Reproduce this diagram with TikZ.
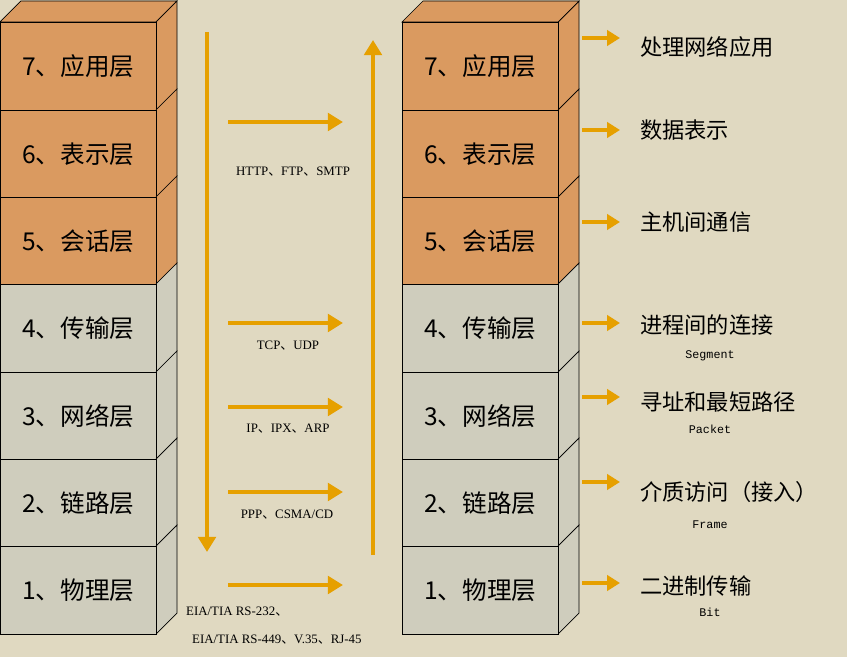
\documentclass[tikz,border=0pt]{standalone}
\usepackage{fontspec}
\setmainfont{Liberation Serif}
\newfontfamily\cjk{Noto Sans CJK SC}
\newfontfamily\mono{Liberation Mono}
\newcommand\dun{{\cjk 、}}
\usetikzlibrary{arrows.meta}
\definecolor{bg}{HTML}{E0D9C1}
\definecolor{org}{HTML}{DA9A60}
\definecolor{gry}{HTML}{CFCDBD}
\definecolor{arr}{HTML}{E6A000}
\tikzset{
  lay/.style={font=\cjk\fontsize{21}{23}\selectfont},
  flow/.style={draw=arr, line width=3.5pt, -{Triangle[length=13pt,width=15pt]}},
  prot/.style={font=\fontsize{11}{13}\selectfont, anchor=center},
  desc/.style={font=\cjk\fontsize{19}{21}\selectfont, anchor=west},
  sub/.style={font=\mono\fontsize{10}{12}\selectfont, anchor=center}
}
\begin{document}
\begin{tikzpicture}[x=0.03cm,y=-0.03cm]
\fill[bg] (0,0) rectangle (847,657);
\useasboundingbox (0,0) rectangle (847,657);
\foreach \x/\s in {0/L,402/R}{
  \foreach \i/\t/\b/\c in {7/22/110/org,6/110/197/org,5/197/284/org,4/284/372/gry,3/372/459/gry,2/459/546/gry,1/546/634/gry}{
    \fill[\c,draw=black,line width=0.6pt] (\x+156,\t) -- (\x+177,\t-21) -- (\x+177,\b-21) -- (\x+156,\b) -- cycle;
    \node[draw=black,fill=\c,line width=0.6pt,minimum width=156*0.03cm,minimum height=(\b-\t)*0.03cm,inner sep=0pt,lay,anchor=north west] (\s\i) at (\x,\t) {\i、\ifcase\i\or 物理层\or 链路层\or 网络层\or 传输层\or 会话层\or 表示层\or 应用层\fi};
  }
  \fill[org,draw=black,line width=0.6pt] (\x,22) -- (\x+21,1) -- (\x+177,1) -- (\x+156,22) -- cycle;
}
% vertical arrows
\coordinate (dA) at (207,32); \coordinate (dB) at (207,552);
\coordinate (uA) at (373,555); \coordinate (uB) at (373,40);
\draw[flow] (dA) -- (dB);
\draw[flow] (uA) -- (uB);
% horizontal arrows
\foreach \y/\n in {122/a,323/b,407/c,492/d,585/e}{
  \coordinate (h\n1) at (228,\y); \coordinate (h\n2) at (343,\y);
  \draw[flow] (h\n1) -- (h\n2);
}
\node[prot] (p7) at (293,172) {HTTP\dun FTP\dun SMTP};
\node[prot] (p4) at (288,346) {TCP\dun UDP};
\node[prot] (p3) at (288,429) {IP\dun IPX\dun ARP};
\node[prot] (p2) at (287,515) {PPP\dun CSMA/CD};
\node[prot,anchor=west] (p1a) at (182,612) {EIA/TIA RS-232\dun};
\node[prot,anchor=west] (p1b) at (188,640) {EIA/TIA RS-449\dun V.35\dun RJ-45};
% right arrows and descriptions
\foreach \y/\ty/\t/\n in {38/47/处理网络应用/7,130/130/数据表示/6,222/222/主机间通信/5,323/325/进程间的连接/4,397/402/寻址和最短路径/3,482/492/介质访问（接入）/2,583/586/二进制传输/1}{
  \coordinate (r\n1) at (582,\y); \coordinate (r\n2) at (620,\y);
  \draw[flow,line width=3pt,-{Triangle[length=11pt,width=13pt]}] (r\n1) -- (r\n2);
  \node[desc] (d\n) at (636,\ty) {\t};
}
\node[sub] (s4) at (710,356) {Segment};
\node[sub] (s3) at (710,429) {Packet};
\node[sub] (s2) at (710,525) {Frame};
\node[sub] (s1) at (710,612) {Bit};
\end{tikzpicture}
\end{document}
